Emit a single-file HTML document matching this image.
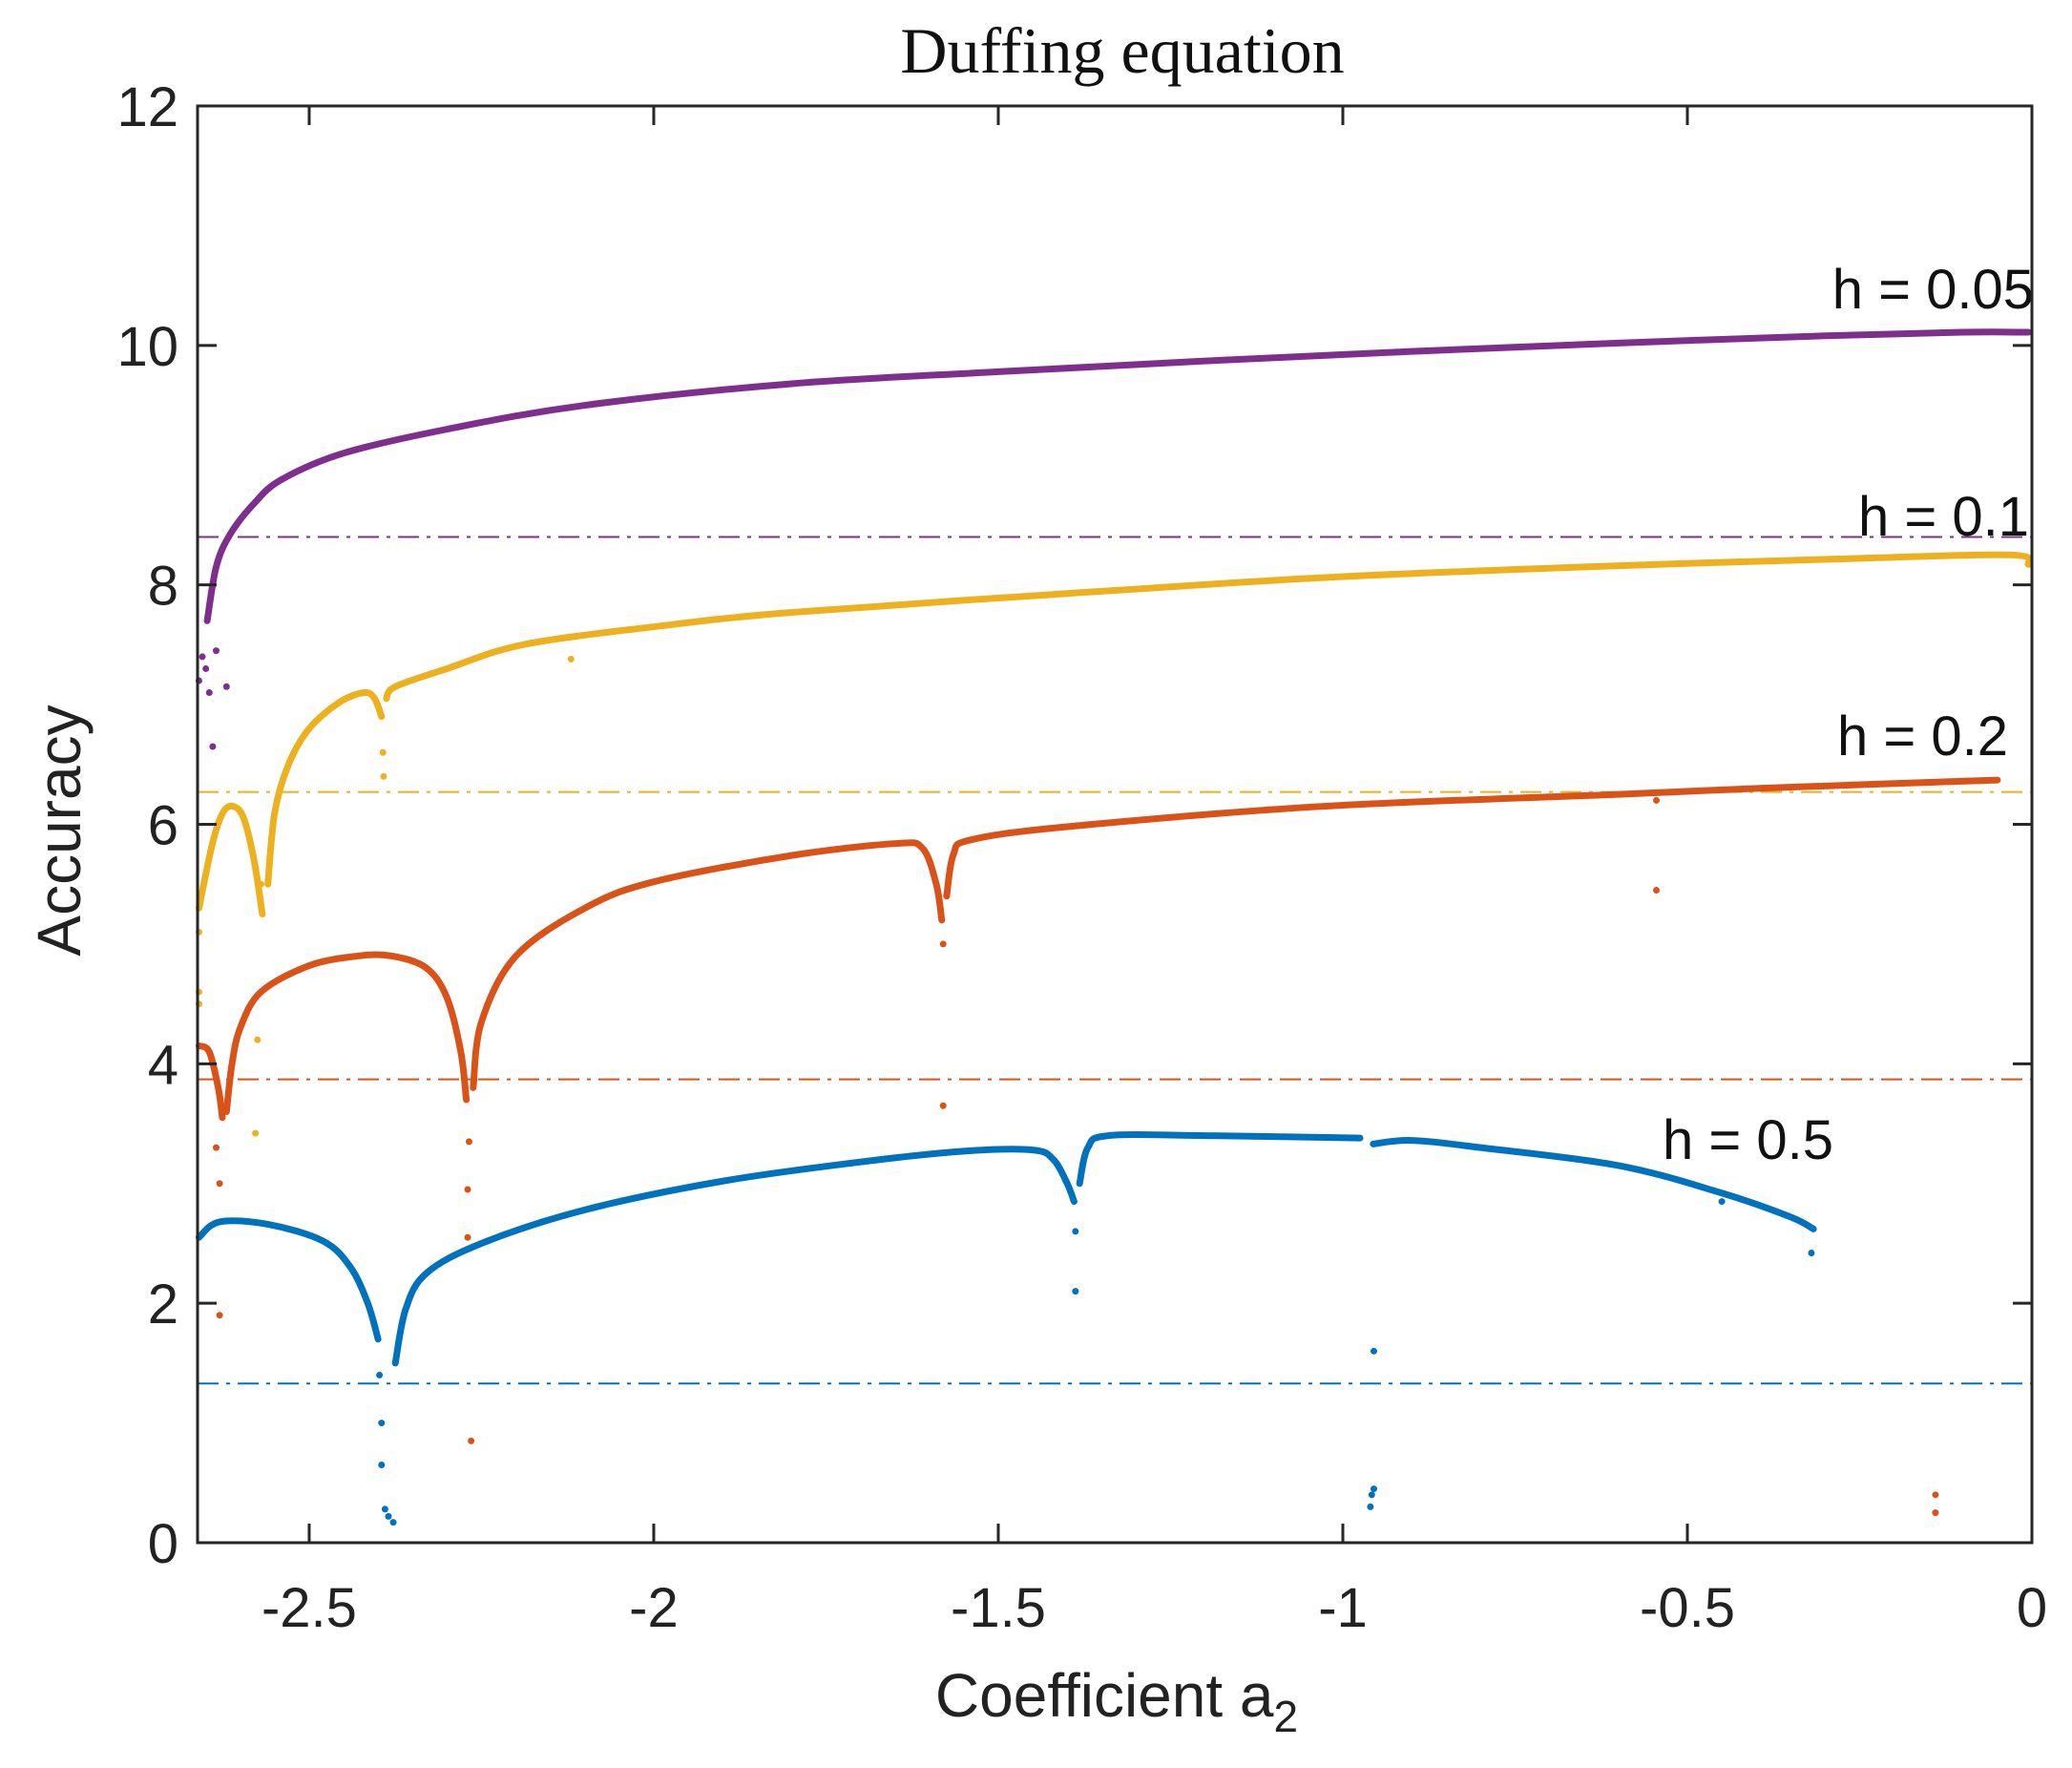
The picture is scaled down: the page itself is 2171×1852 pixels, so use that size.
<!DOCTYPE html>
<html><head><meta charset="utf-8"><style>
html,body{margin:0;padding:0;background:#fff;}
svg{display:block;font-family:"Liberation Sans",sans-serif;}
</style></head><body>
<svg id="chart" width="2171" height="1852" viewBox="0 0 2171 1852">
<text x="1176" y="76" font-family="Liberation Serif,serif" font-size="68" text-anchor="middle" fill="#111">Duffing equation</text>
<g id="plot"></g>
<g id="axes"></g>
<text x="1170" y="1798" font-size="64" text-anchor="middle" fill="#222">Coefficient a<tspan font-size="46" dy="16">2</tspan></text>
<text transform="translate(84,870) rotate(-90)" font-size="64" text-anchor="middle" fill="#222">Accuracy</text>
</svg>
<script>
const xTicks=[-2.5,-2,-1.5,-1,-0.5,0];
const xTickLabels=["-2.5","-2","-1.5","-1","-0.5","0"];
const yTicks=[0,2,4,6,8,10,12];
const yTickLabels=["0","2","4","6","8","10","12"];
const seriesNames=["h = 0.05","h = 0.1","h = 0.2","h = 0.5"];
const thresholds=[8.4,6.27,3.87,1.33];
const purpleSeg=[[[-2.648,7.7],[-2.635,8.15],[-2.615,8.42],[-2.58,8.68],[-2.54,8.88],[-2.45,9.1],[-2.3,9.3],[-2.1,9.5],[-1.8,9.68],[-1.5,9.78],[-1.2,9.87],[-0.9,9.95],[-0.6,10.02],[-0.3,10.08],[-0.1,10.11],[-0.005,10.11]]];
const yellowSeg=[[[-2.66,5.3],[-2.64,5.85],[-2.625,6.1],[-2.61,6.15],[-2.595,6.05],[-2.58,5.7],[-2.568,5.25]],[[-2.56,5.5],[-2.55,6.1],[-2.53,6.5],[-2.5,6.8],[-2.456,7.02],[-2.42,7.1],[-2.405,7.05],[-2.395,6.9]],[[-2.388,7.05],[-2.375,7.15],[-2.3,7.3],[-2.19,7.5],[-2.0,7.65],[-1.8,7.77],[-1.42,7.92],[-1.03,8.06],[-0.65,8.15],[-0.26,8.22],[-0.03,8.25],[-0.005,8.17]]];
const orangeSeg=[[[-2.66,4.15],[-2.645,4.1],[-2.632,3.8],[-2.626,3.55]],[[-2.62,3.6],[-2.612,4.0],[-2.6,4.3],[-2.57,4.6],[-2.5,4.82],[-2.43,4.9],[-2.38,4.9],[-2.33,4.8],[-2.3,4.55],[-2.28,4.1],[-2.272,3.7]],[[-2.262,3.8],[-2.25,4.35],[-2.2,4.9],[-2.1,5.3],[-2.0,5.52],[-1.8,5.74],[-1.648,5.84],[-1.61,5.8],[-1.59,5.5],[-1.582,5.2]],[[-1.575,5.4],[-1.565,5.75],[-1.54,5.87],[-1.4,5.98],[-1.03,6.15],[-0.6,6.25],[-0.4,6.3],[-0.05,6.37]]];
const blueSeg=[[[-2.66,2.55],[-2.63,2.68],[-2.56,2.66],[-2.48,2.52],[-2.44,2.3],[-2.415,2.0],[-2.4,1.7]],[[-2.375,1.5],[-2.36,1.95],[-2.33,2.25],[-2.25,2.5],[-2.1,2.78],[-1.9,3.02],[-1.7,3.18],[-1.55,3.27],[-1.45,3.28],[-1.42,3.2],[-1.4,3.0],[-1.39,2.85]],[[-1.382,3.0],[-1.37,3.3],[-1.34,3.4],[-1.2,3.4],[-0.975,3.38]],[[-0.956,3.33],[-0.9,3.36],[-0.8,3.3],[-0.6,3.15],[-0.45,2.92],[-0.35,2.72],[-0.317,2.62]]];
const purpleDots=[[-2.655,7.4],[-2.65,7.3],[-2.645,7.1],[-2.635,7.45],[-2.64,6.65],[-2.62,7.15],[-2.66,7.2]];
const yellowDots=[[-2.66,5.1],[-2.66,4.6],[-2.66,4.5],[-2.57,5.5],[-2.575,4.2],[-2.578,3.42],[-2.393,6.6],[-2.392,6.4],[-2.12,7.38]];
const orangeDots=[[-2.635,3.3],[-2.63,3.0],[-2.63,1.9],[-2.268,3.35],[-2.27,2.95],[-2.27,2.55],[-2.265,0.85],[-1.58,5.0],[-1.58,3.65],[-0.545,5.45],[-0.545,6.2],[-0.14,0.4],[-0.14,0.25]];
const blueDots=[[-2.398,1.4],[-2.395,1.0],[-2.395,0.65],[-2.39,0.28],[-2.385,0.22],[-2.378,0.17],[-1.388,2.6],[-1.388,2.1],[-0.955,1.6],[-0.96,0.3],[-0.958,0.4],[-0.955,0.45],[-0.45,2.85],[-0.32,2.42]];
const colors=["#7E2F8E","#EDB120","#D95319","#0072BD"];

const L=207,R=2129,T=111,B=1616,xmin=-2.662,xmax=0,ymin=0,ymax=12;
const sx=v=>L+(v-xmin)/(xmax-xmin)*(R-L);
const sy=v=>B-(v-ymin)/(ymax-ymin)*(B-T);
const NS="http://www.w3.org/2000/svg";
const plot=document.getElementById('plot'),axes=document.getElementById('axes');
function mk(tag,attrs,parent){const e=document.createElementNS(NS,tag);for(const k in attrs)e.setAttribute(k,attrs[k]);parent.appendChild(e);return e;}
function smoothPath(pts){
  const p=pts.map(q=>[sx(q[0]),sy(q[1])]);
  let d="M"+p[0][0]+","+p[0][1];
  for(let i=0;i<p.length-1;i++){
    const p0=p[i-1]||p[i],p1=p[i],p2=p[i+1],p3=p[i+2]||p2;
    const c1=[p1[0]+(p2[0]-p0[0])/6,p1[1]+(p2[1]-p0[1])/6];
    const c2=[p2[0]-(p3[0]-p1[0])/6,p2[1]-(p3[1]-p1[1])/6];
    d+=" C"+c1+" "+c2+" "+p2;
  }
  return d;
}
thresholds.forEach((v,i)=>{
  const ln=mk('line',{x1:L,x2:R,y1:sy(v),y2:sy(v),stroke:colors[i],'stroke-width':2,'stroke-dasharray':'22,8,4,8'},plot);
  
  
});
const segs=[purpleSeg,yellowSeg,orangeSeg,blueSeg];
const dots=[purpleDots,yellowDots,orangeDots,blueDots];
segs.forEach((ss,i)=>{
  ss.forEach((s,j)=>{
    const pth=mk('path',{d:smoothPath(s),fill:'none',stroke:colors[i],'stroke-width':7,'stroke-linecap':'round'},plot);
    
    
  });
  dots[i].forEach(q=>{
    const c=mk('circle',{cx:sx(q[0]),cy:sy(q[1]),r:3.5,fill:colors[i]},plot);
    
    
  });
});
const labelPos=[[2131,323,'end'],[2126,561,'end'],[2104,791,'end'],[1742,1214,'start']];
seriesNames.forEach((n,i)=>{
  const t=mk('text',{x:labelPos[i][0],y:labelPos[i][1],'font-size':58,fill:'#111','text-anchor':labelPos[i][2]},plot);
  t.textContent=n;
  
  
});
const box=mk('rect',{x:L,y:T,width:R-L,height:B-T,fill:'none',stroke:'#262626','stroke-width':3},axes);


xTicks.forEach((v,i)=>{
  const x=sx(v);
  mk('line',{x1:x,x2:x,y1:B,y2:B-20,stroke:'#262626','stroke-width':3},axes);
  mk('line',{x1:x,x2:x,y1:T,y2:T+20,stroke:'#262626','stroke-width':3},axes);
  const t=mk('text',{x:x,y:B+88,'font-size':58,'text-anchor':'middle',fill:'#222'},axes);
  t.textContent=xTickLabels[i];
  
  
});
yTicks.forEach((v,i)=>{
  const y=sy(v);
  mk('line',{x1:L,x2:L+20,y1:y,y2:y,stroke:'#262626','stroke-width':3},axes);
  mk('line',{x1:R,x2:R-20,y1:y,y2:y,stroke:'#262626','stroke-width':3},axes);
  const t=mk('text',{x:L-20,y:y+21,'font-size':58,'text-anchor':'end',fill:'#222'},axes);
  t.textContent=yTickLabels[i];
  
  
});
</script>
</body></html>
